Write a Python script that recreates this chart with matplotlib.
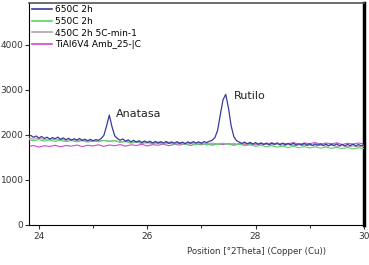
import numpy as np
import matplotlib
matplotlib.use("Agg")
import matplotlib.pyplot as plt

x_start, x_end = 23.8, 30.0

c650 = [1960, 1990, 1945, 1975, 1930, 1965, 1920, 1950, 1905, 1940,
        1915, 1950, 1900, 1935, 1890, 1925, 1880, 1915, 1885, 1920,
        1875, 1905, 1870, 1900, 1865, 1895, 1880, 1920, 1990, 2200,
        2440, 2180, 1980, 1920, 1880, 1910, 1860, 1890, 1845, 1880,
        1840, 1870, 1830, 1865, 1825, 1860, 1820, 1855, 1815, 1850,
        1820, 1855, 1810, 1845, 1815, 1850, 1810, 1840, 1805, 1845,
        1815, 1850, 1820, 1845, 1815, 1850, 1830, 1860, 1880, 1940,
        2100, 2450, 2780, 2900, 2600, 2200, 1960, 1870, 1840, 1810,
        1840, 1800, 1835, 1795, 1830, 1790, 1825, 1785, 1820, 1780,
        1815, 1790, 1825, 1780, 1815, 1775, 1810, 1780, 1815, 1770,
        1805, 1775, 1810, 1770, 1800, 1765, 1800, 1770, 1805, 1765,
        1795, 1760, 1795, 1765, 1800, 1760, 1790, 1755, 1790, 1760,
        1795, 1755, 1785, 1760, 1780]

c550 = [1900, 1870, 1895, 1860, 1885, 1855, 1880, 1850, 1875, 1845,
        1870, 1840, 1865, 1850, 1880, 1860, 1875, 1835, 1850, 1815,
        1840, 1805, 1830, 1800, 1825, 1795, 1820, 1790, 1815, 1785,
        1810, 1780, 1805, 1775, 1800, 1785, 1810, 1790, 1770, 1795,
        1760, 1780, 1745, 1770, 1735, 1760, 1730, 1750, 1720, 1745,
        1715, 1740, 1710, 1735, 1705, 1730, 1700, 1725, 1695, 1720,
        1690, 1715, 1700]

c450 = [1930, 1905, 1925, 1895, 1915, 1890, 1905, 1880, 1900, 1870,
        1890, 1865, 1880, 1860, 1875, 1855, 1870, 1845, 1860, 1835,
        1855, 1830, 1850, 1825, 1845, 1820, 1840, 1815, 1835, 1810,
        1830, 1805, 1825, 1800, 1820, 1800, 1815, 1795, 1810, 1790,
        1805, 1785, 1800, 1780, 1795, 1775, 1790, 1770, 1785, 1765,
        1780, 1760, 1775, 1755, 1770, 1750, 1765, 1745, 1760, 1740,
        1755, 1740, 1750]

amb = [1740, 1765, 1730, 1760, 1745, 1770, 1735, 1765, 1750, 1775,
       1740, 1770, 1755, 1780, 1745, 1775, 1760, 1785, 1750, 1780,
       1765, 1790, 1755, 1785, 1770, 1795, 1760, 1790, 1775, 1800,
       1765, 1795, 1780, 1805, 1770, 1800, 1785, 1810, 1775, 1805,
       1790, 1815, 1780, 1810, 1795, 1825, 1785, 1815, 1800, 1830,
       1790, 1820, 1805, 1830, 1790, 1820, 1800, 1825, 1785, 1815,
       1795, 1820, 1800]

labels = ["650C 2h", "550C 2h", "450C 2h 5C-min-1", "TiAl6V4 Amb_25-|C"]
colors = ["#3a3a9e", "#5ad26a", "#b3a3a8", "#d048d0"]

fig = plt.figure(figsize=(3.69, 2.65), dpi=100)
ax = fig.add_axes([0.079, 0.151, 0.907, 0.838])

ax.plot(np.linspace(x_start, x_end, len(amb)), amb, color=colors[3], lw=0.8, zorder=2)
ax.plot(np.linspace(x_start, x_end, len(c450)), c450, color=colors[2], lw=0.8, zorder=3)
ax.plot(np.linspace(x_start, x_end, len(c550)), c550, color=colors[1], lw=0.8, zorder=4)
ax.plot(np.linspace(x_start, x_end, len(c650)), c650, color=colors[0], lw=0.9, zorder=5)

# legend drawn in the order of the original
handles = [plt.Line2D([], [], color=c, lw=1.2) for c in colors]
ax.legend(handles, labels, loc="upper left", frameon=False, fontsize=6.5,
          handlelength=2.2, handletextpad=0.4, labelspacing=0.3,
          borderaxespad=0.1, bbox_to_anchor=(-0.005, 1.01))

ax.text(25.42, 2350, "Anatasa", fontsize=8, color="#222222", va="bottom")
ax.text(27.6, 2760, "Rutilo", fontsize=8, color="#222222", va="bottom")

ax.set_xlim(23.82, 30.0)
ax.set_ylim(0, 4930)
ax.set_xticks([24, 26, 28, 30])
ax.set_xticks([25, 27, 29], minor=True)
ax.set_yticks([0, 1000, 2000, 3000, 4000])
ax.tick_params(labelsize=6.5, colors="#333333", length=3, direction="out")
ax.tick_params(axis="y", pad=1)
ax.tick_params(axis="x", pad=2)
ax.tick_params(axis="x", which="minor", length=2)

ax.set_xlabel("Position [°2Theta] (Copper (Cu))", fontsize=6.2, color="#333333", labelpad=1)
ax.xaxis.set_label_coords(0.68, -0.1)

ax.spines["left"].set_color("black")
ax.spines["bottom"].set_color("black")
ax.spines["top"].set_color("#555555")
ax.spines["right"].set_color("black")
ax.spines["right"].set_linewidth(2.5)
ax.spines["top"].set_linewidth(1.2)

fig.savefig("out.png", dpi=100)
